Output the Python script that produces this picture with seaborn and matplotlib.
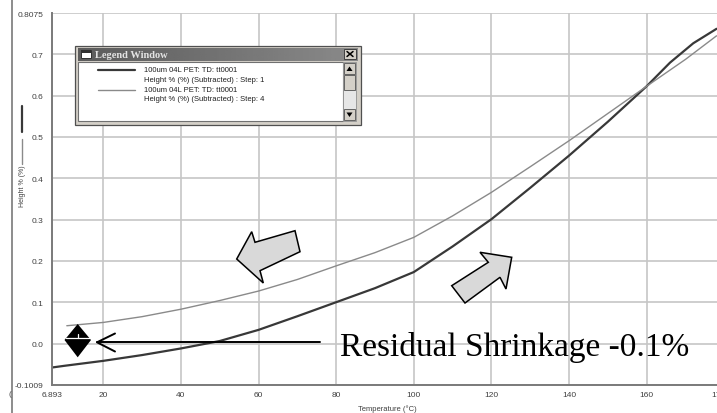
import numpy as np
import pandas as pd
import seaborn as sns
import matplotlib.pyplot as plt
from matplotlib.patches import Polygon, Rectangle

# heating trace (step 1)
step1_temp = [6.893, 10, 20, 30, 40, 50, 60, 70, 80, 90, 100, 110, 120, 130, 140, 150, 160, 166, 172, 178]
step1_height = [-0.058, -0.054, -0.042, -0.028, -0.012, 0.006, 0.033, 0.066, 0.100, 0.134, 0.173,
                0.235, 0.301, 0.377, 0.455, 0.537, 0.623, 0.680, 0.727, 0.762]
# second trace (step 4)
step4_temp = [10.6, 20, 30, 40, 50, 60, 70, 80, 90, 100, 110, 120, 130, 140, 150, 160, 170, 178]
step4_height = [0.043, 0.051, 0.065, 0.083, 0.104, 0.127, 0.155, 0.188, 0.220, 0.257, 0.309,
                0.366, 0.428, 0.491, 0.557, 0.623, 0.688, 0.745]

x_ticks = [6.893, 20, 40, 60, 80, 100, 120, 140, 160, 179.4]
x_tick_labels = ["6.893", "20", "40", "60", "80", "100", "120", "140", "160", "179.4"]
y_ticks = [-0.1, 0.0, 0.1, 0.2, 0.3, 0.4, 0.5, 0.6, 0.7, 0.8]
y_tick_labels = ["-0.1009", "0.0", "0.1", "0.2", "0.3", "0.4", "0.5", "0.6", "0.7", "0.8075"]

legend_lines = ["100um 04L PET: TD: tt0001", "Height % (%) (Subtracted) : Step: 1",
                "100um 04L PET: TD: tt0001", "Height % (%) (Subtracted) : Step: 4"]
annotation = "Residual Shrinkage -0.1%"

colors = {"Step: 1": "#383838", "Step: 4": "#8a8a8a"}
widths = {"Step: 1": 1.6, "Step: 4": 1.0}

sns.set_style("white")
plt.rcParams['font.family'] = ['Liberation Sans', 'DejaVu Sans']

df = pd.concat([
    pd.DataFrame({"temperature": step1_temp, "height": step1_height, "step": "Step: 1"}),
    pd.DataFrame({"temperature": step4_temp, "height": step4_height, "step": "Step: 4"}),
])

W, H = 717, 414
fig = plt.figure(figsize=(W / 100, H / 100), dpi=100)
fig.patch.set_facecolor("white")
left, right, top, bottom = 52.4, 722, 14.1, 385.8
ax = fig.add_axes([left / W, (H - bottom) / H, (right - left) / W, (bottom - top) / H])

sns.lineplot(data=df, x="temperature", y="height", hue="step", size="step",
             palette=colors, sizes=widths, estimator=None, sort=False, legend=False, ax=ax)

ax.set_xlim(6.893, 179.4)
ax.set_ylim(-0.1, 0.8)
ax.set_xticks(x_ticks)
ax.set_xticklabels(x_tick_labels)
ax.set_yticks(y_ticks)
ax.set_yticklabels(y_tick_labels)
ax.grid(True, color="#c6c6c6", lw=1.2)
ax.set_axisbelow(True)
for s in ["top", "right"]:
    ax.spines[s].set_visible(False)
for s in ["left", "bottom"]:
    ax.spines[s].set_color("#7a7a7a")
    ax.spines[s].set_linewidth(1.4)
ax.tick_params(axis="both", length=3, width=1, color="#606060", labelsize=6, labelcolor="#404040")
ax.tick_params(axis="x", pad=1.5)
ax.tick_params(axis="y", pad=3.5)

ax.set_xlabel("Temperature (\u00b0C)", fontsize=5.5, color="#404040")
ax.xaxis.set_label_coords(0.4997, -0.053)
ax.set_ylabel("Height % (%)", fontsize=5, color="#404040", va="center")
ax.yaxis.set_label_coords((22 - left) / (right - left), (bottom - 186.5) / (bottom - top))

# overlay in pixel coordinates for the screenshot decorations
ov = fig.add_axes([0, 0, 1, 1])
ov.axis("off")

# window frame line on the far left
ov.plot([12, 12], [0, H], color="#8c8c8c", lw=1.4)
ov.text(10, 395, "(", fontsize=6, color="#505050", ha="center", va="center")

# series keys beside the y label
ov.plot([22, 22], [107, 133], color=colors["Step: 1"], lw=1.6)
ov.plot([22, 22], [140, 165], color=colors["Step: 4"], lw=1.0)

# legend window
ov.add_patch(Rectangle((75, 47), 286, 79, fc="#d4d0c8", ec="#505050", lw=0.9))
grad = np.linspace(0.36, 0.54, 100)[None, :]
ov.imshow(grad, cmap="gray", vmin=0, vmax=1, extent=(78, 358, 62, 49), aspect="auto", zorder=1)
ov.add_patch(Rectangle((81, 51), 10, 8, fc="white", ec="#303030", lw=0.7, zorder=2))
ov.add_patch(Rectangle((81, 51), 10, 2.5, fc="#303030", ec="none", zorder=2))
ov.text(95, 55.8, "Legend Window", color="#e4e4e4", fontsize=7.5, family="Liberation Serif",
        weight="bold", va="center", zorder=3)
ov.add_patch(Rectangle((344, 50), 12, 10, fc="#d4d0c8", ec="#404040", lw=0.7, zorder=2))
ov.plot([347, 353], [52.5, 57.5], color="black", lw=1.1, zorder=3)
ov.plot([347, 353], [57.5, 52.5], color="black", lw=1.1, zorder=3)
ov.add_patch(Rectangle((78, 63), 265, 59, fc="white", ec="#707070", lw=0.8))
ov.add_patch(Rectangle((343, 63), 13, 59, fc="#e6e6e6", ec="#909090", lw=0.6))
for y0 in [64, 76, 110]:
    h = 15 if y0 == 76 else 11
    ov.add_patch(Rectangle((344, y0), 11, h, fc="#d4d0c8", ec="#505050", lw=0.6))
ov.add_patch(Polygon([(349.5, 67.5), (346.5, 72), (352.5, 72)], fc="black", ec="none"))
ov.add_patch(Polygon([(346.5, 113.5), (352.5, 113.5), (349.5, 118)], fc="black", ec="none"))

for y, key in [(70.5, "Step: 1"), (90.5, "Step: 4")]:
    ov.plot([98, 135], [y, y], color=colors[key], lw=widths[key])
for y, txt in zip([70, 80.5, 90, 100], legend_lines):
    ov.text(144, y, txt, fontsize=5.5, color="#202020", va="center")

# block arrows
arrow_down = [(236.7, 260), (251.7, 232.7), (255, 243.3), (295, 231.7), (300, 252.7),
              (260, 271.7), (263.3, 284)]
arrow_up = [(451.7, 286.7), (488.3, 263.3), (480, 253.3), (511.7, 258.3), (506, 290),
            (500, 278.3), (465, 304)]
for pts in [arrow_down, arrow_up]:
    ov.add_patch(Polygon(pts, closed=True, fc="#d9d9d9", ec="black", lw=1.1, joinstyle="miter"))

# residual shrinkage marker and arrow
ov.add_patch(Polygon([(77.7, 325), (91, 341), (77.7, 358.3), (64.5, 341)], fc="black", ec="none"))
ov.plot([66, 89.5], [339, 339], color="white", lw=0.9)
ov.plot([77.7, 77.7], [334.5, 339], color="white", lw=0.9)
ov.plot([97, 320], [343.3, 343.3], color="black", lw=1.4)
ov.plot([115, 97, 115], [334.5, 343.3, 352.5], color="black", lw=1.4)
ov.text(340, 356, annotation, fontsize=24, family="Liberation Serif", color="black", va="baseline")

ov.set_xlim(0, W)
ov.set_ylim(H, 0)

fig.savefig("out.png", dpi=100)
